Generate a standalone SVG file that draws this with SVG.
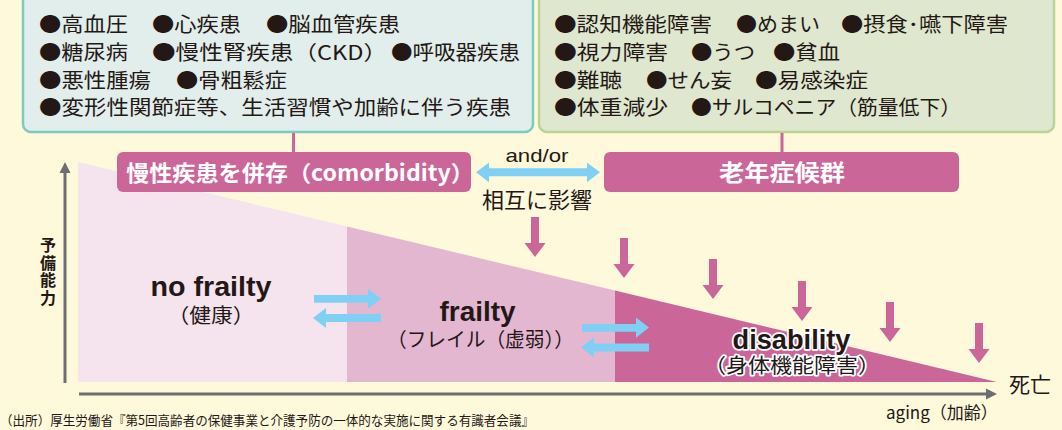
<svg xmlns="http://www.w3.org/2000/svg" width="1062" height="430" viewBox="0 0 1062 430">
<style>
.jp{font-family:"Noto Sans CJK JP","Noto Sans",sans-serif;fill:#231815}
.box{font-size:20px}
.lat{font-family:"Liberation Sans",Arial,sans-serif;fill:#231815}
.wt{fill:#ffffff;font-weight:bold}
.pk{fill:#cb6699}
.bl{fill:#80cff5}
.ax{stroke:#6d6e70;stroke-width:3;fill:none}
.axh{fill:#6d6e70}
.halo{stroke:#ffffff;stroke-width:3.5;paint-order:stroke;stroke-linejoin:round}
</style>
<rect x="0" y="0" width="1062" height="430" fill="#fff9dc"/>

<g id="box-diseases">
<rect x="23" y="-10" width="510" height="142" rx="8" fill="#e2eeeb" stroke="#7ecabf" stroke-width="2.5"/>
<g class="jp box">
<text x="39" y="32" textLength="89" lengthAdjust="spacingAndGlyphs">●高血圧</text>
<text x="152" y="32" textLength="89" lengthAdjust="spacingAndGlyphs">●心疾患</text>
<text x="266" y="32" textLength="134" lengthAdjust="spacingAndGlyphs">●脳血管疾患</text>
<text x="39" y="59.5" textLength="89" lengthAdjust="spacingAndGlyphs">●糖尿病</text>
<text x="152" y="59.5" textLength="235" lengthAdjust="spacingAndGlyphs">●慢性腎疾患（CKD）</text>
<text x="391" y="59.5" textLength="129" lengthAdjust="spacingAndGlyphs">●呼吸器疾患</text>
<text x="39" y="87.5" textLength="112" lengthAdjust="spacingAndGlyphs">●悪性腫瘍</text>
<text x="176" y="87.5" textLength="111" lengthAdjust="spacingAndGlyphs">●骨粗鬆症</text>
<text x="39" y="114.5" textLength="472" lengthAdjust="spacingAndGlyphs">●変形性関節症等、生活習慣や加齢に伴う疾患</text>
</g>
</g>

<g id="box-geriatric">
<rect x="539" y="-10" width="515" height="142" rx="8" fill="#dfe7cf" stroke="#b9d58f" stroke-width="2.5"/>
<g class="jp box">
<text x="554" y="32" textLength="158" lengthAdjust="spacingAndGlyphs">●認知機能障害</text>
<text x="736" y="32" textLength="84" lengthAdjust="spacingAndGlyphs">●めまい</text>
<text x="841" y="32" textLength="167" lengthAdjust="spacingAndGlyphs">●摂食･嚥下障害</text>
<text x="554" y="59.5" textLength="114" lengthAdjust="spacingAndGlyphs">●視力障害</text>
<text x="691" y="59.5" textLength="64" lengthAdjust="spacingAndGlyphs">●うつ</text>
<text x="773" y="59.5" textLength="67" lengthAdjust="spacingAndGlyphs">●貧血</text>
<text x="554" y="87.5" textLength="68" lengthAdjust="spacingAndGlyphs">●難聴</text>
<text x="646" y="87.5" textLength="86" lengthAdjust="spacingAndGlyphs">●せん妄</text>
<text x="755" y="87.5" textLength="113" lengthAdjust="spacingAndGlyphs">●易感染症</text>
<text x="554" y="114.5" textLength="114" lengthAdjust="spacingAndGlyphs">●体重減少</text>
<text x="691" y="114.5" textLength="270" lengthAdjust="spacingAndGlyphs">●サルコペニア（筋量低下）</text>
</g>
</g>

<g id="chart-areas">
<polygon points="78,162 347,226.4 347,382 78,382" fill="#f5e3ed"/>
<polygon points="347,226.4 615,290.6 615,382 347,382" fill="#e4b7d0"/>
<polygon points="615,290.6 997,382 615,382" fill="#cb6699"/>
</g>

<g id="axes">
<line class="ax" x1="65" y1="383" x2="65" y2="170"/>
<polygon class="axh" points="59.5,173 65,162 70.5,173"/>
<line class="ax" x1="79" y1="394" x2="988" y2="394"/>
<polygon class="axh" points="986,388.5 997,394 986,399.5"/>
<text class="jp" x="48" y="237" font-size="16" font-weight="bold" writing-mode="vertical-rl" letter-spacing="1.5">予備能力</text>
<text class="jp" x="886" y="419" font-size="17">aging（加齢）</text>
<text class="jp" x="1009" y="392" font-size="21">死亡</text>
</g>

<g id="connectors">
<line x1="293.5" y1="133" x2="293.5" y2="152" stroke="#cb6699" stroke-width="3"/>
<line x1="782" y1="133" x2="782" y2="152" stroke="#cb6699" stroke-width="3"/>
<polygon class="bl" points="476,172.3 489,162.5 489,168.3 587,168.3 587,162.5 600,172.3 587,182.3 587,176.3 489,176.3 489,182.3"/>
<polygon class="bl" points="314,295 368,295 368,288.8 381,298.8 368,308.8 368,302.8 314,302.8"/>
<polygon class="bl" points="381,314 326,314 326,308 313,318 326,328 326,322 381,322"/>
<polygon class="bl" points="582,324 636,324 636,317.5 649,327.6 636,337.7 636,331.7 582,331.7"/>
<polygon class="bl" points="649,343.5 594,343.5 594,337.5 581,347.5 594,357.5 594,351.5 649,351.5"/>
<polygon class="pk" points="531,217 539,217 539,243 545.5,243 535,257 524.5,243 531,243"/>
<polygon class="pk" points="620,238 628,238 628,264 634.5,264 624,278 613.5,264 620,264"/>
<polygon class="pk" points="709,259 717,259 717,285 723.5,285 713,299 702.5,285 709,285"/>
<polygon class="pk" points="798,281 806,281 806,307 812.5,307 802,321 791.5,307 798,307"/>
<polygon class="pk" points="886,302 894,302 894,328 900.5,328 890,342 879.5,328 886,328"/>
<polygon class="pk" points="975,323 983,323 983,349 989.5,349 979,363 968.5,349 975,349"/>
<text class="lat" x="537" y="162" font-size="19" text-anchor="middle" textLength="63" lengthAdjust="spacingAndGlyphs">and/or</text>
<text class="jp" x="537" y="208" font-size="22" text-anchor="middle">相互に影響</text>
</g>

<g id="node-comorbidity">
<rect x="117" y="152" width="354" height="40" rx="6" fill="#cb6699"/>
<text class="jp wt" x="126" y="180.5" font-size="22" textLength="348" lengthAdjust="spacingAndGlyphs">慢性疾患を併存（comorbidity）</text>
</g>

<g id="node-geriatric">
<rect x="604" y="152" width="355" height="40" rx="6" fill="#cb6699"/>
<text class="jp wt" x="782" y="180.5" font-size="23" text-anchor="middle" textLength="126" lengthAdjust="spacingAndGlyphs">老年症候群</text>
</g>

<g id="node-nofrailty">
<text class="lat" x="211" y="296" font-size="27" font-weight="bold" text-anchor="middle" textLength="121" lengthAdjust="spacingAndGlyphs">no frailty</text>
<text class="jp" x="211" y="323" font-size="20" text-anchor="middle" textLength="87" lengthAdjust="spacingAndGlyphs">（健康）</text>
</g>

<g id="node-frailty">
<text class="lat" x="477.5" y="321" font-size="27" font-weight="bold" text-anchor="middle" textLength="76" lengthAdjust="spacingAndGlyphs">frailty</text>
<text class="jp" x="480.5" y="347" font-size="20" text-anchor="middle" textLength="187" lengthAdjust="spacingAndGlyphs">（フレイル（虚弱））</text>
</g>

<g id="node-disability">
<text class="lat halo" x="791.5" y="348.5" font-size="27" font-weight="bold" text-anchor="middle" textLength="118" lengthAdjust="spacingAndGlyphs">disability</text>
<text class="jp halo" x="792" y="373" font-size="20" text-anchor="middle" textLength="176" lengthAdjust="spacingAndGlyphs">（身体機能障害）</text>
</g>

<text class="jp" x="0" y="425" font-size="13" textLength="534" lengthAdjust="spacingAndGlyphs">（出所）厚生労働省『第5回高齢者の保健事業と介護予防の一体的な実施に関する有識者会議』</text>
</svg>
